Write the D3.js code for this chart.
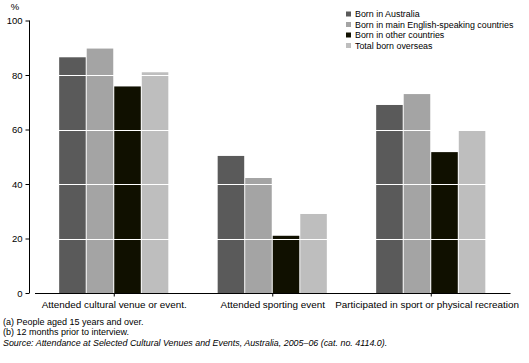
<!DOCTYPE html>
<html><head><meta charset="utf-8">
<script src="https://cdn.jsdelivr.net/npm/d3@7"></script>
<style>
body{margin:0;background:#fff;}
text{font-family:"Liberation Sans",Arial,sans-serif;fill:#000;}
</style></head>
<body><svg id="c" width="529" height="363"></svg>
<script>
const categories = ["Attended cultural venue or event.", "Attended sporting event", "Participated in sport or physical recreation"];
const seriesNames = ["Born in Australia", "Born in main English-speaking countries", "Born in other countries", "Total born overseas"];
const bornAustralia = [86.5, 50.3, 69];
const bornMainEnglish = [89.7, 42.2, 73];
const bornOther = [75.8, 21, 51.7];
const totalOverseas = [81, 29, 59.8];
const colors = ["#5a5a5a", "#a4a4a4", "#101000", "#bebebe"];
const yTicks = [0, 20, 40, 60, 80, 100];
const footnotes = ["(a) People aged 15 years and over.", "(b) 12 months prior to interview."];
const source = "Source: Attendance at Selected Cultural Venues and Events, Australia, 2005\u201306 (cat. no. 4114.0).";

const series = [bornAustralia, bornMainEnglish, bornOther, totalOverseas];
const svg = d3.select("#c");
const y = d3.scaleLinear().domain([0, 100]).range([293, 20.5]);
const x0 = d3.scaleBand().domain(categories).range([35, 510.5]).paddingInner(0.305).paddingOuter(0.1525);
const x1 = d3.scaleBand().domain(d3.range(4)).range([0, x0.bandwidth()]);

const g = svg.append("g");
categories.forEach((c, ci) => {
  series.forEach((s, si) => {
    g.append("rect")
      .attr("x", x0(c) + x1(si))
      .attr("y", y(s[ci]))
      .attr("width", x1.bandwidth() - 1)
      .attr("height", y(0) - y(s[ci]))
      .attr("fill", colors[si]);
  });
});
// white gridlines over bars
yTicks.filter(t => t > 0 && t < 100).forEach(t => {
  svg.append("line").attr("x1", 35).attr("x2", 510).attr("y1", Math.round(y(t)) + 0.5).attr("y2", Math.round(y(t)) + 0.5)
    .attr("stroke", "#fff").attr("stroke-width", 1);
});

// y axis
const yAxis = d3.axisLeft(y).tickValues(yTicks).tickSize(4).tickPadding(3);
const ya = svg.append("g").attr("transform", "translate(29.5,0)").call(yAxis);
ya.select(".domain").attr("d", `M-0,${y(100)}V${y(0)}`).attr("stroke", "#000");
ya.selectAll("text").style("font-size", "9.5px").attr("font-family", "Liberation Sans, Arial, sans-serif");
svg.append("text").attr("x", 15).attr("y", 10).attr("text-anchor", "middle").style("font-size", "9.5px").text("%");

// x axis
const xa = svg.append("g").attr("transform", "translate(0,293.5)")
  .call(d3.axisBottom(x0).tickSize(3).tickFormat(""));
xa.select(".domain").attr("d", "M35,0H510.5").attr("stroke", "#000");
xa.selectAll(".tick line").attr("stroke", "#000");
categories.forEach((c, i) => {
  let cx = x0(c) + x0.bandwidth() / 2;
  const t = svg.append("text").attr("y", 308).attr("text-anchor", "middle").style("font-size", "9.9px").text(c);
  const w = t.node().getComputedTextLength();
  if (cx + w / 2 > 519) cx = 519 - w / 2;
  t.attr("x", cx);
});

// legend
const leg = svg.append("g");
seriesNames.forEach((n, i) => {
  const yy = 14 + i * 10.5;
  leg.append("rect").attr("x", 346).attr("y", yy - 2.5).attr("width", 5).attr("height", 5).attr("fill", colors[i]);
  leg.append("text").attr("x", 355).attr("y", yy + 3).style("font-size", "8.9px").text(n);
});

footnotes.forEach((f, i) => {
  svg.append("text").attr("x", 3).attr("y", 325 + i * 10).style("font-size", "9px").text(f);
});
svg.append("text").attr("x", 3).attr("y", 345.5).style("font-size", "8.9px").style("font-style", "italic").text(source);
</script></body></html>
